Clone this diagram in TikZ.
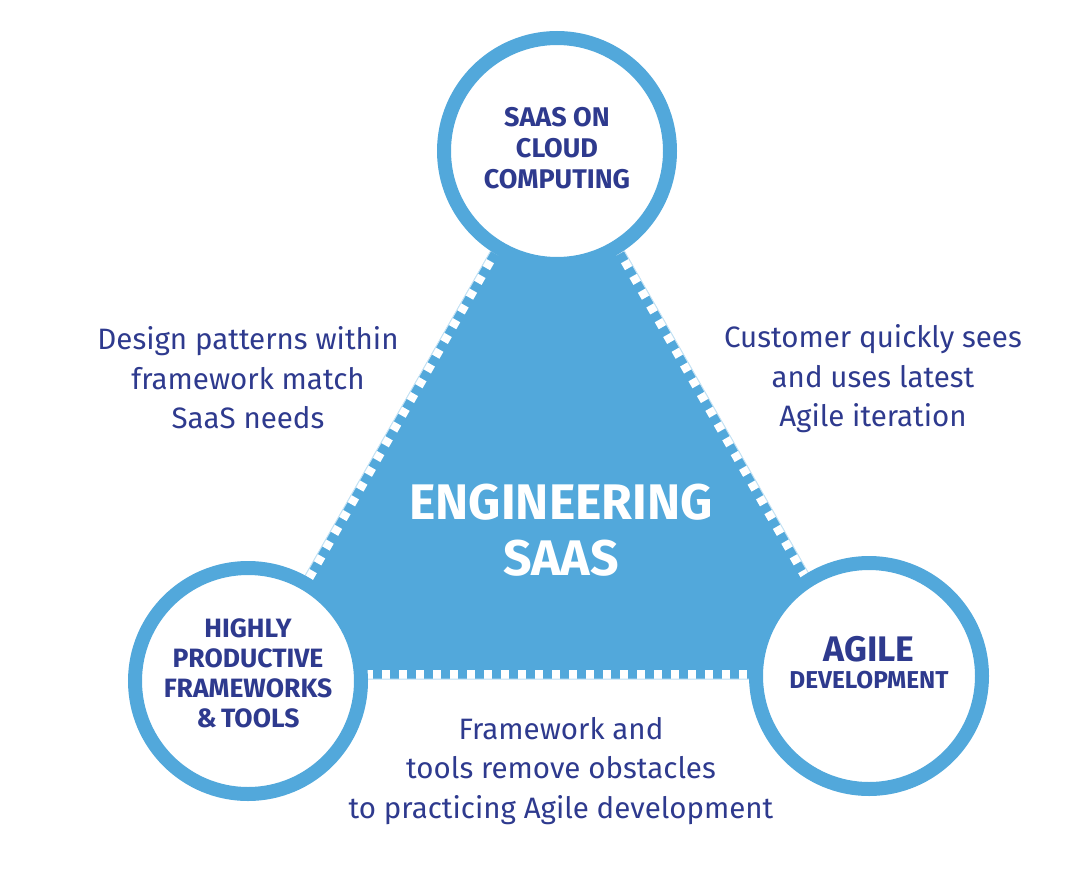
\documentclass[tikz,border=0pt]{standalone}
\usepackage{fontspec}
\setmainfont{Fira Sans}
\definecolor{sblue}{HTML}{52A8DB}
\definecolor{navy}{HTML}{2E3A8E}
\definecolor{edgeline}{HTML}{C4E2F4}
\begin{document}
\begin{tikzpicture}[x=1pt,y=-1pt,
  ring/.style={circle,draw=sblue,fill=white,line width=14pt,minimum size=226pt,inner sep=0pt},
  circtext/.style={align=center,text=navy,inner sep=0pt},
  bodytext/.style={align=center,text=navy,font=\fontsize{29.5}{39.5}\selectfont},
  dashedge/.style={white,line width=18pt,dash pattern=on 8pt off 9pt}]
\useasboundingbox (0,0) rectangle (1092,886);
\coordinate (A) at (557.5,134);
\coordinate (B) at (246,679);
\coordinate (C) at (869,679);
\fill[sblue] (A) -- (B) -- (C) -- cycle;
\begin{scope}
  \clip (A) -- (B) -- (C) -- cycle;
  \draw[dashedge] (B) -- (C);
  \draw[dashedge] (B) -- (A);
  \draw[dashedge] (C) -- (A);
\end{scope}
\draw[edgeline,line width=1pt] (A) -- (B) -- (C) -- cycle;
\node[ring] (saas) at (557,151) {};
\node[ring] (hpf) at (248,681) {};
\node[ring] (agile) at (869,676) {};
\node[circtext,font=\bfseries\fontsize{27}{31}\selectfont] (saast) at (saas.center) [yshift=3pt] {SAAS ON\\CLOUD\\COMPUTING};
\node[circtext,font=\bfseries\fontsize{26.5}{30}\selectfont] (hpft) at (248,673) {HIGHLY\\PRODUCTIVE\\FRAMEWORKS\\\&\,TOOLS};
\node[circtext,font=\bfseries\fontsize{24.4}{27}\selectfont] (agilet) at (869,663) {{\fontsize{35.5}{27}\selectfont AGILE}\\DEVELOPMENT};
\node[align=center,text=white,font=\bfseries\fontsize{50}{56}\selectfont] (eng) at (561,530) {ENGINEERING\\SAAS};
\node[bodytext] (l1) at (248,378) {Design patterns within\\framework match\\SaaS needs};
\node[bodytext] (l2) at (873,379) {Customer quickly sees\\and uses latest\\Agile iteration};
\node[bodytext] (l3) at (561,771) {Framework and\\tools remove obstacles\\to practicing Agile development};
\end{tikzpicture}
\end{document}
